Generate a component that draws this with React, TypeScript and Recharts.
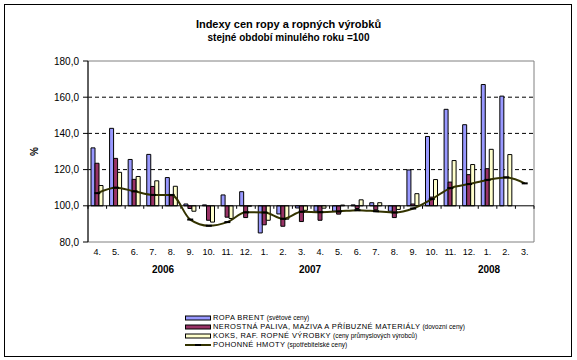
import { Bar, CartesianGrid, ComposedChart, Line, ReferenceArea, ReferenceLine, XAxis, YAxis } from 'recharts'

const months = ['4.', '5.', '6.', '7.', '8.', '9.', '10.', '11.', '12.', '1.', '2.', '3.', '4.', '5.', '6.', '7.', '8.', '9.', '10.', '11.', '12.', '1.', '2.', '3.']
const ropaBrent = [132, 142.8, 125.6, 128.4, 115.6, 101, 100.5, 106, 107.8, 85, 95.5, 98.8, 97, 97, 100.5, 101.7, 97, 119.8, 138.3, 153.3, 144.8, 167, 160.6, null]
const nerostnaPaliva = [123.5, 126.2, 114.6, 110.7, 105.6, 98.5, 92, 93.7, 93.5, 89.5, 88.7, 91.3, 92, 95.4, 98.5, 97.8, 93.5, 101, 104.8, 113.1, 117.2, 120.5, null, null]
const koksVyrobky = [111.2, 118.5, 116.2, 113.8, 110.8, 97, 91, 93, 99.8, 92, 92.6, 97.5, 98.7, 100.4, 103.3, 101.7, 98, 106.7, 114.5, 125, 122.8, 131.2, 128.3, null]
const pohonneHmoty = [107, 110, 108, 106, 106, 92.4, 89, 91, 96.4, 96.3, 92.8, 96.7, 96.5, 96.9, 97.6, 97, 96.3, 98.5, 103.7, 109.8, 112, 114.3, 115.7, 112.4]
const yTicks = [80, 100, 120, 140, 160, 180]
const years = ['2006', '2007', '2008']
const legendNames = [
  ['ROPA BRENT', '(světové ceny)'],
  ['NEROSTNÁ PALIVA, MAZIVA A PŘÍBUZNÉ MATERIÁLY', '(dovozní ceny)'],
  ['KOKS, RAF. ROPNÉ VÝROBKY', '(ceny průmyslových výrobců)'],
  ['POHONNÉ HMOTY', '(spotřebitelské ceny)'],
]

const data = months.map((month, i) => ({
  month,
  brent: ropaBrent[i],
  paliva: nerostnaPaliva[i],
  koks: koksVyrobky[i],
  pohon: pohonneHmoty[i],
}))

// bars hang from the 100 line, like the excel original
const fromBase = (key: string) => (d: any) =>
  d[key] == null ? null : [Math.min(100, d[key]), Math.max(100, d[key])]

const font = '"Liberation Sans", Arial, sans-serif'
const colors = { brent: '#9999FF', paliva: '#993366', koks: '#FFFFCC', pohon: '#333300' }

function BaseLine(props: any) {
  const { x1, x2, y1 } = props
  const step = (x2 - x1) / months.length
  return (
    <g>
      <line x1={x1} x2={x2} y1={y1} y2={y1} stroke="#000" strokeWidth={1} />
      {Array.from({ length: months.length + 1 }, (_, k) => (
        <line key={k} x1={x1 + k * step} x2={x1 + k * step} y1={y1} y2={y1 + 3} stroke="#000" />
      ))}
    </g>
  )
}

function Marker(props: any) {
  const { cx, cy } = props
  if (cx == null || cy == null) return <g />
  return <rect x={cx - 3} y={cy - 1} width={6} height={2} fill="#000" />
}

function Swatch({ i }: { i: number }) {
  if (i === 3) {
    return (
      <svg width={26} height={6} style={{ display: 'block' }}>
        <line x1={0} x2={26} y1={3} y2={3} stroke={colors.pohon} strokeWidth={2} />
        <rect x={10} y={2} width={6} height={2} fill="#000" />
      </svg>
    )
  }
  const fill = [colors.brent, colors.paliva, colors.koks][i]
  return (
    <svg width={26} height={6} style={{ display: 'block' }}>
      <rect x={0.5} y={1} width={25} height={4} fill={fill} stroke="#000" strokeWidth={1} />
    </svg>
  )
}

export default function App() {
  const yearPos = [163, 310, 489]
  return (
    <div style={{ position: 'absolute', left: 0, top: 0, width: 577, height: 360, background: '#fff', fontFamily: font }}>
      <div style={{ position: 'absolute', left: 4, top: 4, width: 566, height: 351, border: '1px solid #000' }} />
      <div style={{ position: 'absolute', left: 0, width: 577, top: 18, textAlign: 'center', fontWeight: 'bold', fontSize: 11, paddingLeft: 0 }}>
        <div style={{ marginLeft: 0, width: 577 }}>Indexy cen ropy a ropných výrobků</div>
        <div style={{ fontSize: 10, marginTop: 2 }}>stejné období minulého roku =100</div>
      </div>
      <ComposedChart
        width={577}
        height={360}
        data={data}
        margin={{ top: 61, right: 43, bottom: 98, left: 0 }}
        barGap={0}
        barCategoryGap={0}
        style={{ position: 'absolute', left: 0, top: 0 }}
      >
        <CartesianGrid horizontal vertical={false} horizontalValues={[120, 140, 160]} stroke="#000" strokeDasharray="4 3" />
        <ReferenceArea y1={80} y2={180} fill="none" stroke="#808080" strokeWidth={1} ifOverflow="visible" />
        <XAxis
          dataKey="month"
          height={20}
          axisLine={false}
          tickLine={false}
          tickSize={5}
          interval={0}
          tick={{ fontSize: 9, fill: '#000', fontFamily: font }}
        />
        <YAxis
          width={88}
          domain={[80, 180]}
          ticks={yTicks}
          allowDataOverflow
          axisLine={{ stroke: '#000' }}
          tickLine={{ stroke: '#000' }}
          tickSize={5}
          tickMargin={4}
          tickFormatter={(v: number) => v.toFixed(1).replace('.', ',')}
          tick={{ fontSize: 10, fill: '#000', fontFamily: font }}
        />
        <Bar dataKey={fromBase('brent')} fill={colors.brent} stroke="#000" strokeWidth={1} barSize={4} isAnimationActive={false} />
        <Bar dataKey={fromBase('paliva')} fill={colors.paliva} stroke="#000" strokeWidth={1} barSize={4} isAnimationActive={false} />
        <Bar dataKey={fromBase('koks')} fill={colors.koks} stroke="#000" strokeWidth={1} barSize={4} isAnimationActive={false} />
        <ReferenceLine y={100} shape={BaseLine} />
        <Line
          dataKey="pohon"
          type="monotone"
          stroke={colors.pohon}
          strokeWidth={2}
          dot={<Marker />}
          activeDot={false}
          isAnimationActive={false}
        />
      </ComposedChart>
      <div style={{ position: 'absolute', left: 30, top: 146, transform: 'rotate(-90deg)', fontSize: 10, fontWeight: 'bold' }}>%</div>
      {years.map((y, i) => (
        <div key={y} style={{ position: 'absolute', left: yearPos[i] - 20, width: 40, top: 264, textAlign: 'center', fontSize: 10, fontWeight: 'bold' }}>
          {y}
        </div>
      ))}
      <div style={{ position: 'absolute', left: 185, top: 313 }}>
        {legendNames.map(([name, note], i) => (
          <div key={name} style={{ display: 'flex', alignItems: 'center', height: 9, fontSize: 7.5, whiteSpace: 'nowrap' }}>
            <Swatch i={i} />
            <span style={{ marginLeft: 2, letterSpacing: 0.4 }}>{name}</span>
            <span style={{ marginLeft: 2, fontSize: 6.5 }}>{note}</span>
          </div>
        ))}
      </div>
    </div>
  )
}
